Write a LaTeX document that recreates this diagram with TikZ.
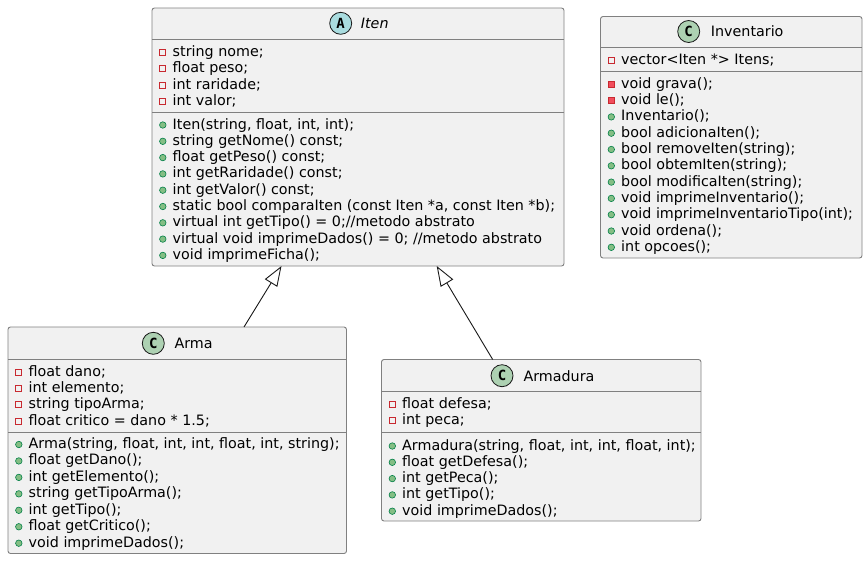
\documentclass[tikz,border=0pt]{standalone}
\usepackage{fontspec}
\setmainfont{DejaVu Sans}
\newfontfamily\spotfamily{DejaVu Sans Mono}
\usetikzlibrary{arrows.meta,calc}
\definecolor{linec}{HTML}{181818}
\definecolor{borderc}{HTML}{808080}
\definecolor{boxfill}{HTML}{F1F1F1}
\definecolor{privred}{HTML}{C82930}
\definecolor{privfill}{HTML}{F24D5C}
\definecolor{pubstroke}{HTML}{038048}
\definecolor{pubfill}{HTML}{84BE84}
\definecolor{spotc}{HTML}{ADD1B2}
\definecolor{spota}{HTML}{A9DCDF}
\newcommand\txtfont{\fontsize{14.3pt}{16pt}\selectfont}
\newcommand\umlrow[5]{%
  \node[#2] (#1-i) at ({#3+10.8},{#4+1}) {};
  \node[member] (#1) at ({#3+20.5},{#4+5}) {#5};
}
\tikzset{
  classbox/.style={draw=borderc, line width=0.9pt, fill=boxfill, rounded corners=2.5pt, inner sep=0pt, outer sep=0pt, anchor=north west},
  member/.style={anchor=base west, inner sep=0pt, font=\txtfont, text=black},
  pfield/.style={rectangle, draw=privred, line width=0.8pt, minimum size=6pt, inner sep=0pt},
  pmeth/.style={pfield, fill=privfill},
  pubm/.style={circle, draw=pubstroke, line width=0.6pt, fill=pubfill, minimum size=6.5pt, inner sep=0pt},
  spot/.style={circle, draw=linec, line width=0.8pt, minimum size=22pt, inner sep=0pt, font=\spotfamily\bfseries\fontsize{14pt}{14pt}\selectfont},
  cname/.style={anchor=west, inner sep=0pt, font=\txtfont},
  sep/.style={draw=borderc, line width=0.9pt},
  inh/.style={draw=linec, line width=0.9pt, -{Triangle[open, length=20pt, width=14.5pt]}}
}
\begin{document}
\begin{tikzpicture}[x=1pt,y=-1pt]
\useasboundingbox (0,0) rectangle (867,560);
% ---------- Iten ----------
\node[classbox, minimum width=412pt, minimum height=258pt] (iten) at (152,8) {};
\node[spot, fill=spota] (iten-s) at (340.7,23.3) {A};
\node[cname, font=\txtfont\itshape] (iten-n) at (360.7,23.3) {Iten};
\path[sep] (iten.west |- 0,39) -- (iten.east |- 0,39);
\path[sep] (iten.west |- 0,112.3) -- (iten.east |- 0,112.3);
\foreach \t [count=\i] in {{string nome;},{float peso;},{int raridade;},{int valor;}}{
  \umlrow{iten-f\i}{pfield}{152}{51+(\i-1)*16.5}{\t}
}
\foreach \t [count=\i] in {{Iten(string, float, int, int);},{string getNome() const;},{float getPeso() const;},{int getRaridade() const;},{int getValor() const;},{static bool comparaIten (const Iten *a, const Iten *b);},{virtual int getTipo() = 0;//metodo abstrato},{virtual void imprimeDados() = 0; //metodo abstrato},{void imprimeFicha();}}{
  \umlrow{iten-m\i}{pubm}{152}{124+(\i-1)*16.3}{\t}
}
% ---------- Inventario ----------
\node[classbox, minimum width=261.5pt, minimum height=241.5pt] (inv) at (600.5,16.5) {};
\node[spot, fill=spotc] (inv-s) at (688.7,31.5) {C};
\node[cname] (inv-n) at (710.7,31.5) {Inventario};
\path[sep] (inv.west |- 0,47.5) -- (inv.east |- 0,47.5);
\path[sep] (inv.west |- 0,71) -- (inv.east |- 0,71);
\umlrow{inv-f1}{pfield}{600.5}{59.5}{vector<Iten *> Itens;}
\umlrow{inv-m1}{pmeth}{600.5}{83.3}{void grava();}
\umlrow{inv-m2}{pmeth}{600.5}{99.6}{void le();}
\foreach \t [count=\i] in {{Inventario();},{bool adicionaIten();},{bool removeIten(string);},{bool obtemIten(string);},{bool modificaIten(string);},{void imprimeInventario();},{void imprimeInventarioTipo(int);},{void ordena();},{int opcoes();}}{
  \umlrow{inv-p\i}{pubm}{600.5}{115.9+(\i-1)*16.3}{\t}
}
% ---------- Arma ----------
\node[classbox, minimum width=338.5pt, minimum height=226.5pt] (arma) at (8,327) {};
\node[spot, fill=spotc] (arma-s) at (153.3,343.3) {C};
\node[cname] (arma-n) at (174.3,343.3) {Arma};
\path[sep] (arma.west |- 0,359) -- (arma.east |- 0,359);
\path[sep] (arma.west |- 0,432) -- (arma.east |- 0,432);
\foreach \t [count=\i] in {{float dano;},{int elemento;},{string tipoArma;},{float critico = dano * 1.5;}}{
  \umlrow{arma-f\i}{pfield}{8}{371+(\i-1)*16.4}{\t}
}
\foreach \t [count=\i] in {{Arma(string, float, int, int, float, int, string);},{float getDano();},{int getElemento();},{string getTipoArma();},{int getTipo();},{float getCritico();},{void imprimeDados();}}{
  \umlrow{arma-m\i}{pubm}{8}{443.5+(\i-1)*16.45}{\t}
}
% ---------- Armadura ----------
\node[classbox, minimum width=319.5pt, minimum height=161.5pt] (armd) at (381.5,359.5) {};
\node[spot, fill=spotc] (armd-s) at (502,375.7) {C};
\node[cname] (armd-n) at (523.3,375.7) {Armadura};
\path[sep] (armd.west |- 0,391) -- (armd.east |- 0,391);
\path[sep] (armd.west |- 0,432) -- (armd.east |- 0,432);
\foreach \t [count=\i] in {{float defesa;},{int peca;}}{
  \umlrow{armd-f\i}{pfield}{381.5}{403+(\i-1)*16.5}{\t}
}
\foreach \t [count=\i] in {{Armadura(string, float, int, int, float, int);},{float getDefesa();},{int getPeca();},{int getTipo();},{void imprimeDados();}}{
  \umlrow{armd-m\i}{pubm}{381.5}{445+(\i-1)*16.3}{\t}
}
% ---------- inheritance ----------
\path[inh] ($(arma.north west)+(236,0)$) -- ($(iten.south west)+(129.5,0)$);
\path[inh] ($(armd.north west)+(111.2,0)$) -- ($(iten.south west)+(284.7,0)$);
\end{tikzpicture}
\end{document}
